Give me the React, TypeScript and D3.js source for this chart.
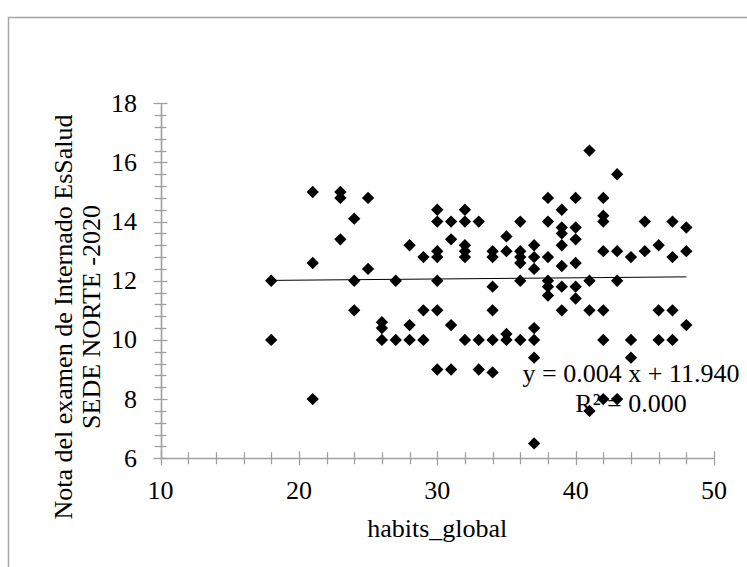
import React, { useEffect, useRef } from 'react';
import * as d3 from 'd3';

// habits_global (x) and exam grade (y)
const habits: number[] = [
  18, 18,
  21, 21, 21,
  23, 23, 23,
  24, 24, 24,
  25, 25,
  26, 26, 26,
  27, 27,
  28, 28, 28,
  29, 29, 29,
  30, 30, 30, 30, 30, 30, 30,
  31, 31, 31, 31,
  32, 32, 32, 32, 32, 32,
  33, 33, 33,
  34, 34, 34, 34, 34, 34,
  35, 35, 35, 35,
  36, 36, 36, 36, 36, 36,
  37, 37, 37, 37, 37, 37, 37,
  38, 38, 38, 38, 38, 38,
  39, 39, 39, 39, 39, 39, 39,
  40, 40, 40, 40, 40, 40,
  41, 41, 41, 41,
  42, 42, 42, 42, 42, 42, 42,
  43, 43, 43, 43,
  44, 44, 44,
  45, 45,
  46, 46, 46,
  47, 47, 47, 47,
  48, 48, 48,
];
const notas: number[] = [
  12, 10,
  15, 12.6, 8,
  15, 14.8, 13.4,
  14.1, 12, 11,
  14.8, 12.4,
  10.6, 10.4, 10,
  12, 10,
  13.2, 10.5, 10,
  12.8, 11, 10,
  14.4, 14, 13, 12.8, 12, 11, 9,
  14, 13.4, 10.5, 9,
  14.4, 14, 13.2, 13, 12.8, 10,
  14, 10, 9,
  13, 12.8, 11.8, 11, 10, 8.9,
  13.5, 13, 10.2, 10,
  14, 13, 12.8, 12.6, 12, 10,
  13.2, 12.8, 12.4, 10.4, 10, 9.4, 6.5,
  14.8, 14, 12.8, 12, 11.8, 11.5,
  14.4, 13.8, 13.6, 13.2, 12.5, 11.8, 11,
  14.8, 13.8, 13.4, 12.6, 11.8, 11.4,
  16.4, 12, 11, 7.6,
  14.8, 14.2, 14, 13, 11, 10, 8,
  15.6, 13, 12, 8,
  12.8, 10, 9.4,
  14, 13,
  13.2, 11, 10,
  14, 12.8, 11, 10,
  13.8, 13, 10.5,
];

const xTicks: number[] = [10, 20, 30, 40, 50];
const yTicks: number[] = [6, 8, 10, 12, 14, 16, 18];
const slope = 0.004;
const intercept = 11.94;
const eqLabel = 'y = 0.004 x + 11.940';
const r2Label = 'R² = 0.000';
const xTitle = 'habits_global';
const yTitle: string[] = ['Nota del examen de Internado EsSalud', 'SEDE NORTE -2020'];

const FONT = '"Liberation Serif", "Times New Roman", serif';
const AXIS = '#a0a0a0';

const App = () => {
  const ref = useRef<SVGSVGElement | null>(null);

  useEffect(() => {
    drawChart();
  }, []);

  const drawChart = () => {
    const svg = d3.select(ref.current);
    svg.selectAll('*').remove();

    const x = d3.scaleLinear().domain([10, 50]).range([160.5, 714]);
    const y = d3.scaleLinear().domain([6, 18]).range([458.2, 103.3]);

    // outer chart border (runs off right/bottom)
    svg.append('rect')
      .attr('x', 8.5).attr('y', 17.5)
      .attr('width', 900).attr('height', 700)
      .attr('fill', 'none').attr('stroke', '#a6a6a6').attr('stroke-width', 1.5);

    const g = svg.append('g');

    const isMajorY = (d: number) => Math.abs(d / 2 - Math.round(d / 2)) < 0.01;

    // y axis with minor ticks every 0.4
    const yMinor = d3.range(0, 31).map(i => 6 + i * 0.4);
    g.selectAll('.ytick')
      .data(yMinor)
      .enter().append('line')
      .attr('x1', d => x(10) - (isMajorY(d) ? 7 : 6))
      .attr('x2', d => x(10) + (isMajorY(d) ? 7 : 6))
      .attr('y1', d => Math.round(y(d)) + 0.5)
      .attr('y2', d => Math.round(y(d)) + 0.5)
      .attr('stroke', AXIS).attr('stroke-width', 1.3);

    // x axis with minor ticks every 2
    const xMinor = d3.range(10, 51, 2);
    g.selectAll('.xtick')
      .data(xMinor)
      .enter().append('line')
      .attr('x1', d => Math.round(x(d)) + 0.5)
      .attr('x2', d => Math.round(x(d)) + 0.5)
      .attr('y1', d => y(6) - (d % 10 === 0 ? 7 : 6))
      .attr('y2', d => y(6) + (d % 10 === 0 ? 7 : 6))
      .attr('stroke', AXIS).attr('stroke-width', 1.3);

    g.append('line')
      .attr('x1', Math.round(x(10)) + 0.5).attr('x2', Math.round(x(10)) + 0.5)
      .attr('y1', y(18)).attr('y2', y(6))
      .attr('stroke', AXIS).attr('stroke-width', 1.6);
    g.append('line')
      .attr('x1', x(10)).attr('x2', x(50))
      .attr('y1', Math.round(y(6)) + 0.5).attr('y2', Math.round(y(6)) + 0.5)
      .attr('stroke', AXIS).attr('stroke-width', 1.6);

    // tick labels
    g.selectAll('.ylab')
      .data(yTicks)
      .enter().append('text')
      .attr('x', 137)
      .attr('y', d => y(d) + 8.5)
      .attr('text-anchor', 'end')
      .attr('font-family', FONT).attr('font-size', 26)
      .text(d => d);

    g.selectAll('.xlab')
      .data(xTicks)
      .enter().append('text')
      .attr('x', d => x(d))
      .attr('y', 499)
      .attr('text-anchor', 'middle')
      .attr('font-family', FONT).attr('font-size', 26)
      .text(d => d);

    // axis titles
    g.append('text')
      .attr('x', x(30)).attr('y', 537)
      .attr('text-anchor', 'middle')
      .attr('font-family', FONT).attr('font-size', 26)
      .text(xTitle);

    g.selectAll('.ytitle')
      .data(yTitle)
      .enter().append('text')
      .attr('transform', (d, i) => `translate(${72 + i * 28},317) rotate(-90)`)
      .attr('text-anchor', 'middle')
      .attr('font-family', FONT).attr('font-size', 26)
      .text(d => d);

    // points
    const pts = habits.map((h, i) => ({ h, n: notas[i] }));
    const diamond = d3.symbol().type(d3.symbolSquare).size(76);
    g.selectAll('.dot')
      .data(pts)
      .enter().append('path')
      .attr('class', 'dot')
      .attr('d', diamond() as string)
      .attr('transform', d => `translate(${x(d.h)},${y(d.n)}) rotate(45)`)
      .attr('fill', '#000');

    // linear trendline
    const [x0, x1] = d3.extent(habits) as [number, number];
    const line = d3.line<number>()
      .x(d => x(d))
      .y(d => y(slope * d + intercept));
    g.append('path')
      .attr('d', line([x0, x1]) as string)
      .attr('fill', 'none')
      .attr('stroke', '#000')
      .attr('stroke-width', 1);

    // equation labels
    g.append('text')
      .attr('x', 631).attr('y', 382)
      .attr('text-anchor', 'middle')
      .attr('font-family', FONT).attr('font-size', 26)
      .text(eqLabel);
    g.append('text')
      .attr('x', 631).attr('y', 412)
      .attr('text-anchor', 'middle')
      .attr('font-family', FONT).attr('font-size', 26)
      .text(r2Label);
  };

  return (
    <svg
      ref={ref}
      width={747}
      height={567}
      style={{ position: 'absolute', left: 0, top: 0, background: '#fff' }}
    />
  );
};

export default App;
